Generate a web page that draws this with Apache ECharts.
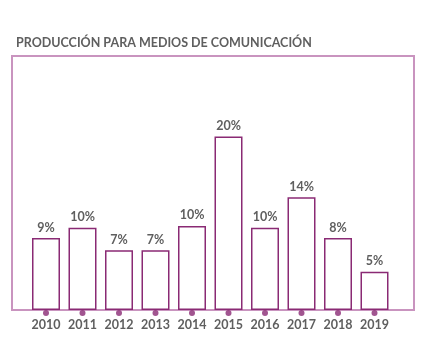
<!DOCTYPE html>
<html>
<head>
<meta charset="utf-8" />
<title>Producción para medios de comunicación</title>
<script src="https://cdn.jsdelivr.net/npm/echarts@6/dist/echarts.min.js"></script>
<style>
  html, body { margin: 0; padding: 0; background: #fff; }
</style>
</head>
<body>
<div id="main" style="width:426px;height:351px;"></div>
<script>
// años
var years = ['2010', '2011', '2012', '2013', '2014', '2015', '2016', '2017', '2018', '2019'];
// altura de las barras
var values = [8.3, 9.5, 6.9, 6.9, 9.7, 20, 9.5, 13, 8.3, 4.4];
// etiquetas impresas sobre cada barra
var labels = ['9%', '10%', '7%', '7%', '10%', '20%', '10%', '14%', '8%', '5%'];
// puntos sobre la línea base
var dots = [0, 0, 0, 0, 0, 0, 0, 0, 0, 0];

var dark = '#8a2a74';
var light = '#c994bf';
var grey = '#5f5f5f';
var font = 'Lato, "Open Sans", sans-serif';

var myChart = echarts.init(document.getElementById('main'));
var option = {
    animation: false,
    title: {
        text: 'PRODUCCIÓN PARA MEDIOS DE COMUNICACIÓN',
        left: 11,
        top: 31,
        textStyle: { color: grey, fontSize: 12.5, fontWeight: 'bold', fontFamily: font }
    },
    grid: [
        // marco
        { left: 12, right: 12, top: 56, bottom: 41, show: true, borderColor: light, borderWidth: 2, backgroundColor: 'transparent' },
        // barras
        { left: 27.75, right: 33.25, top: 56, bottom: 41 }
    ],
    xAxis: [
        { gridIndex: 0, type: 'category', show: false, data: years },
        {
            gridIndex: 1,
            type: 'category',
            data: years,
            axisLine: { show: false },
            axisTick: { show: false },
            axisLabel: { interval: 0, color: grey, fontSize: 12.5, fontWeight: 'bold', fontFamily: font, margin: 8 }
        }
    ],
    yAxis: [
        { gridIndex: 0, type: 'value', show: false },
        { gridIndex: 1, type: 'value', min: 0, max: 29.3, show: false }
    ],
    series: [
        {
            type: 'bar',
            xAxisIndex: 1,
            yAxisIndex: 1,
            data: values,
            barWidth: 28,
            itemStyle: { color: '#fff', borderColor: dark, borderWidth: 1.5 },
            label: {
                show: true,
                position: 'top',
                distance: 4,
                formatter: function (p) { return labels[p.dataIndex]; },
                color: grey,
                fontSize: 12.5,
                fontWeight: 'bold',
                fontFamily: font
            }
        },
        {
            type: 'scatter',
            xAxisIndex: 1,
            yAxisIndex: 1,
            data: dots,
            symbol: 'circle',
            symbolSize: 6,
            symbolOffset: [0, 3],
            clip: false,
            z: 5,
            itemStyle: { color: dark }
        }
    ]
};
myChart.setOption(option);
</script>
</body>
</html>
